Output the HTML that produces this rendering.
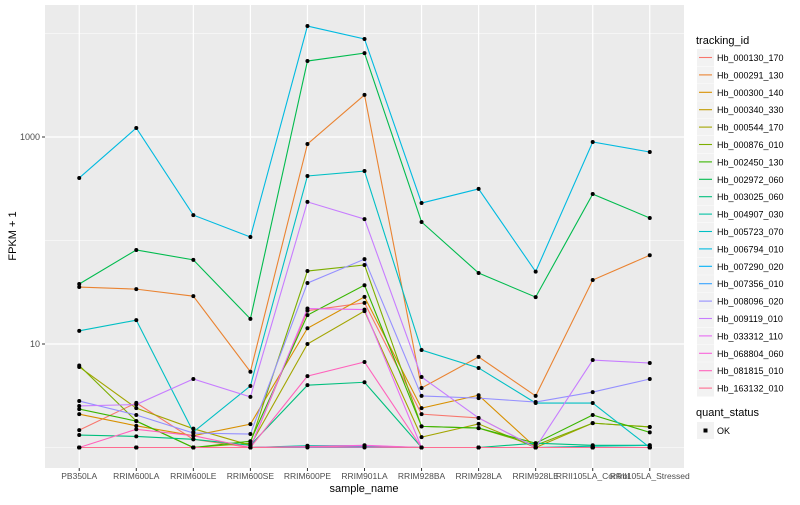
<!DOCTYPE html>
<html><head><meta charset="utf-8"><style>
body{margin:0;background:#fff;font-family:"Liberation Sans",sans-serif}
</style></head><body>
<svg id="c" width="800" height="500" xmlns="http://www.w3.org/2000/svg" style="font-family:'Liberation Sans',sans-serif"></svg>
<script>
const categories=["PB350LA","RRIM600LA","RRIM600LE","RRIM600SE","RRIM600PE","RRIM901LA","RRIM928BA","RRIM928LA","RRIM928LE","RRII105LA_Control","RRII105LA_Stressed"];
const seriesNames=["Hb_000130_170","Hb_000291_130","Hb_000300_140","Hb_000340_330","Hb_000544_170","Hb_000876_010","Hb_002450_130","Hb_002972_060","Hb_003025_060","Hb_004907_030","Hb_005723_070","Hb_006794_010","Hb_007290_020","Hb_007356_010","Hb_008096_020","Hb_009119_010","Hb_033312_110","Hb_068804_060","Hb_081815_010","Hb_163132_010"];
const seriesColors=["#F8766D","#EA8331","#D89000","#C09B00","#A3A500","#7CAE00","#39B600","#00BB4E","#00BF7D","#00C1A3","#00BFC4","#00BAE0","#00B0F6","#35A2FF","#9590FF","#C77CFF","#E76BF3","#FA62DB","#FF62BC","#FF6C91"];
const s000130=[1.47,2.7,1.2,1,21,25,2.1,1.93,1,1,1];
const s000291=[35.5,33.9,29,5.4,855,2550,3.76,7.5,3.15,41.5,72];
const s000300=[2.1,1.62,1.3,1.68,14.2,28.5,2.4,3.2,1,1,1];
const s000340=[1,1,1,1,1.03,1.03,1,1,1,1,1];
const s000544=[6.0,2.4,1.52,1.05,10,20.8,1.26,1.69,1,1.72,1.58];
const s000876=[6.2,1.8,1,1.1,50.7,58,1.6,1.54,1.05,1.72,1.58];
const s002450=[2.35,1.8,1,1.15,19,37,1.6,1.54,1.1,2.06,1.4];
const s002972=[38,81,65,17.5,5420,6470,151,48.5,28.4,281,165];
const s003025=[1.32,1.28,1.2,1.05,4.0,4.27,1,1,1.1,1.05,1.05];
const s004907=[1,1,1,1,1.04,1.04,1,1,1,1.03,1.05];
const s005723=[13.4,17,1.41,3.93,420,469,8.75,5.87,2.69,2.69,1];
const s006794=[402,1222,176,108,11800,8850,230,315,50,895,716];
const s007290=[1,1,1,1,1.02,1.02,1,1,1,1,1];
const s007356=[1,1,1,1,1,1,1,1,1,1,1];
const s008096=[2.81,2.06,1.38,1.35,38.8,66,3.15,3.0,2.75,3.43,4.59];
const s009119=[2.52,2.6,4.59,3.08,236,161,4.8,1.93,1,7.0,6.55];
const s033312=[1,1,1,1,22,21.5,1,1,1,1,1];
const s068804=[1,1,1,1,1.02,1.05,1,1,1,1,1];
const s081815=[1,1.5,1.3,1,4.9,6.7,1,1,1,1,1];
const s163132=[1,1,1,1,1.01,1.01,1,1,1,1,1];
const seriesValues=[s000130,s000291,s000300,s000340,s000544,s000876,s002450,s002972,s003025,s004907,s005723,s006794,s007290,s007356,s008096,s009119,s033312,s068804,s081815,s163132];
const yTickValues=[10,1000];
const yTickLabels=["10","1000"];
const yMinorValues=[1,100,10000];

const NS="http://www.w3.org/2000/svg",svg=document.getElementById('c');
function mk(t,a,p){const e=document.createElementNS(NS,t);for(const k in a)e.setAttribute(k,a[k]);(p||svg).appendChild(e);return e;}
const PL=45,PR=684,PT=5,PB=468;
const step=(PR-PL)/(categories.length-1+1.2);
function xs(i){return PL+step*(0.6+i);}
function ys(v){return 447.5-103.5*Math.log10(v);}

const panel=mk('rect',{x:PL,y:PT,width:PR-PL,height:PB-PT,fill:'#EBEBEB'});


yMinorValues.forEach(v=>{const l=mk('line',{x1:PL,x2:PR,y1:ys(v),y2:ys(v),stroke:'#fff','stroke-width':0.6});

});
yTickValues.forEach((v,i)=>{const l=mk('line',{x1:PL,x2:PR,y1:ys(v),y2:ys(v),stroke:'#fff','stroke-width':1.2});


mk('line',{x1:PL-3,x2:PL,y1:ys(v),y2:ys(v),stroke:'#333','stroke-width':1});
const t=mk('text',{x:PL-5,y:ys(v)+3,'text-anchor':'end','font-size':9,fill:'#4D4D4D'});t.textContent=yTickLabels[i];

});
categories.forEach((c,i)=>{const l=mk('line',{x1:xs(i),x2:xs(i),y1:PT,y2:PB,stroke:'#fff','stroke-width':1.2});


mk('line',{x1:xs(i),x2:xs(i),y1:PB,y2:PB+3,stroke:'#333','stroke-width':1});
const t=mk('text',{x:xs(i),y:PB+11,'text-anchor':'middle','font-size':8.5,fill:'#4D4D4D'});t.textContent=c;

});
seriesValues.forEach((vals,s)=>{const p=mk('polyline',{points:vals.map((v,i)=>xs(i)+','+ys(v)).join(' '),fill:'none',stroke:seriesColors[s],'stroke-width':1.1});

});
seriesValues.forEach((vals,s)=>{vals.forEach((v,i)=>{const d=mk('circle',{cx:xs(i),cy:ys(v),r:2,fill:'#000'});

});});
const yt=mk('text',{x:0,y:0,transform:'translate(16,236) rotate(-90)','text-anchor':'middle','font-size':11,fill:'#000'});yt.textContent='FPKM + 1';


const xt=mk('text',{x:364,y:492,'text-anchor':'middle','font-size':11,fill:'#000'});xt.textContent='sample_name';


const lt=mk('text',{x:696,y:44,'font-size':11,fill:'#000'});lt.textContent='tracking_id';


seriesNames.forEach((n,i)=>{const y=49+i*17.4;
const g=mk('g',{});


mk('rect',{x:697,y:y,width:17,height:17,fill:'#F2F2F2'},g);
mk('line',{x1:699,x2:712,y1:y+8.5,y2:y+8.5,stroke:seriesColors[i],'stroke-width':1.1},g);
const t=mk('text',{x:717,y:y+12,'font-size':9,fill:'#000'},g);t.textContent=n;});
const qt=mk('text',{x:696,y:416,'font-size':11,fill:'#000'});qt.textContent='quant_status';


const qg=mk('g',{});


mk('rect',{x:697,y:422,width:17,height:17,fill:'#F2F2F2'},qg);
mk('rect',{x:703.5,y:428.5,width:4,height:4,fill:'#000'},qg);
const ok=mk('text',{x:717,y:434,'font-size':9,fill:'#000'},qg);ok.textContent='OK';
</script>
</body></html>
